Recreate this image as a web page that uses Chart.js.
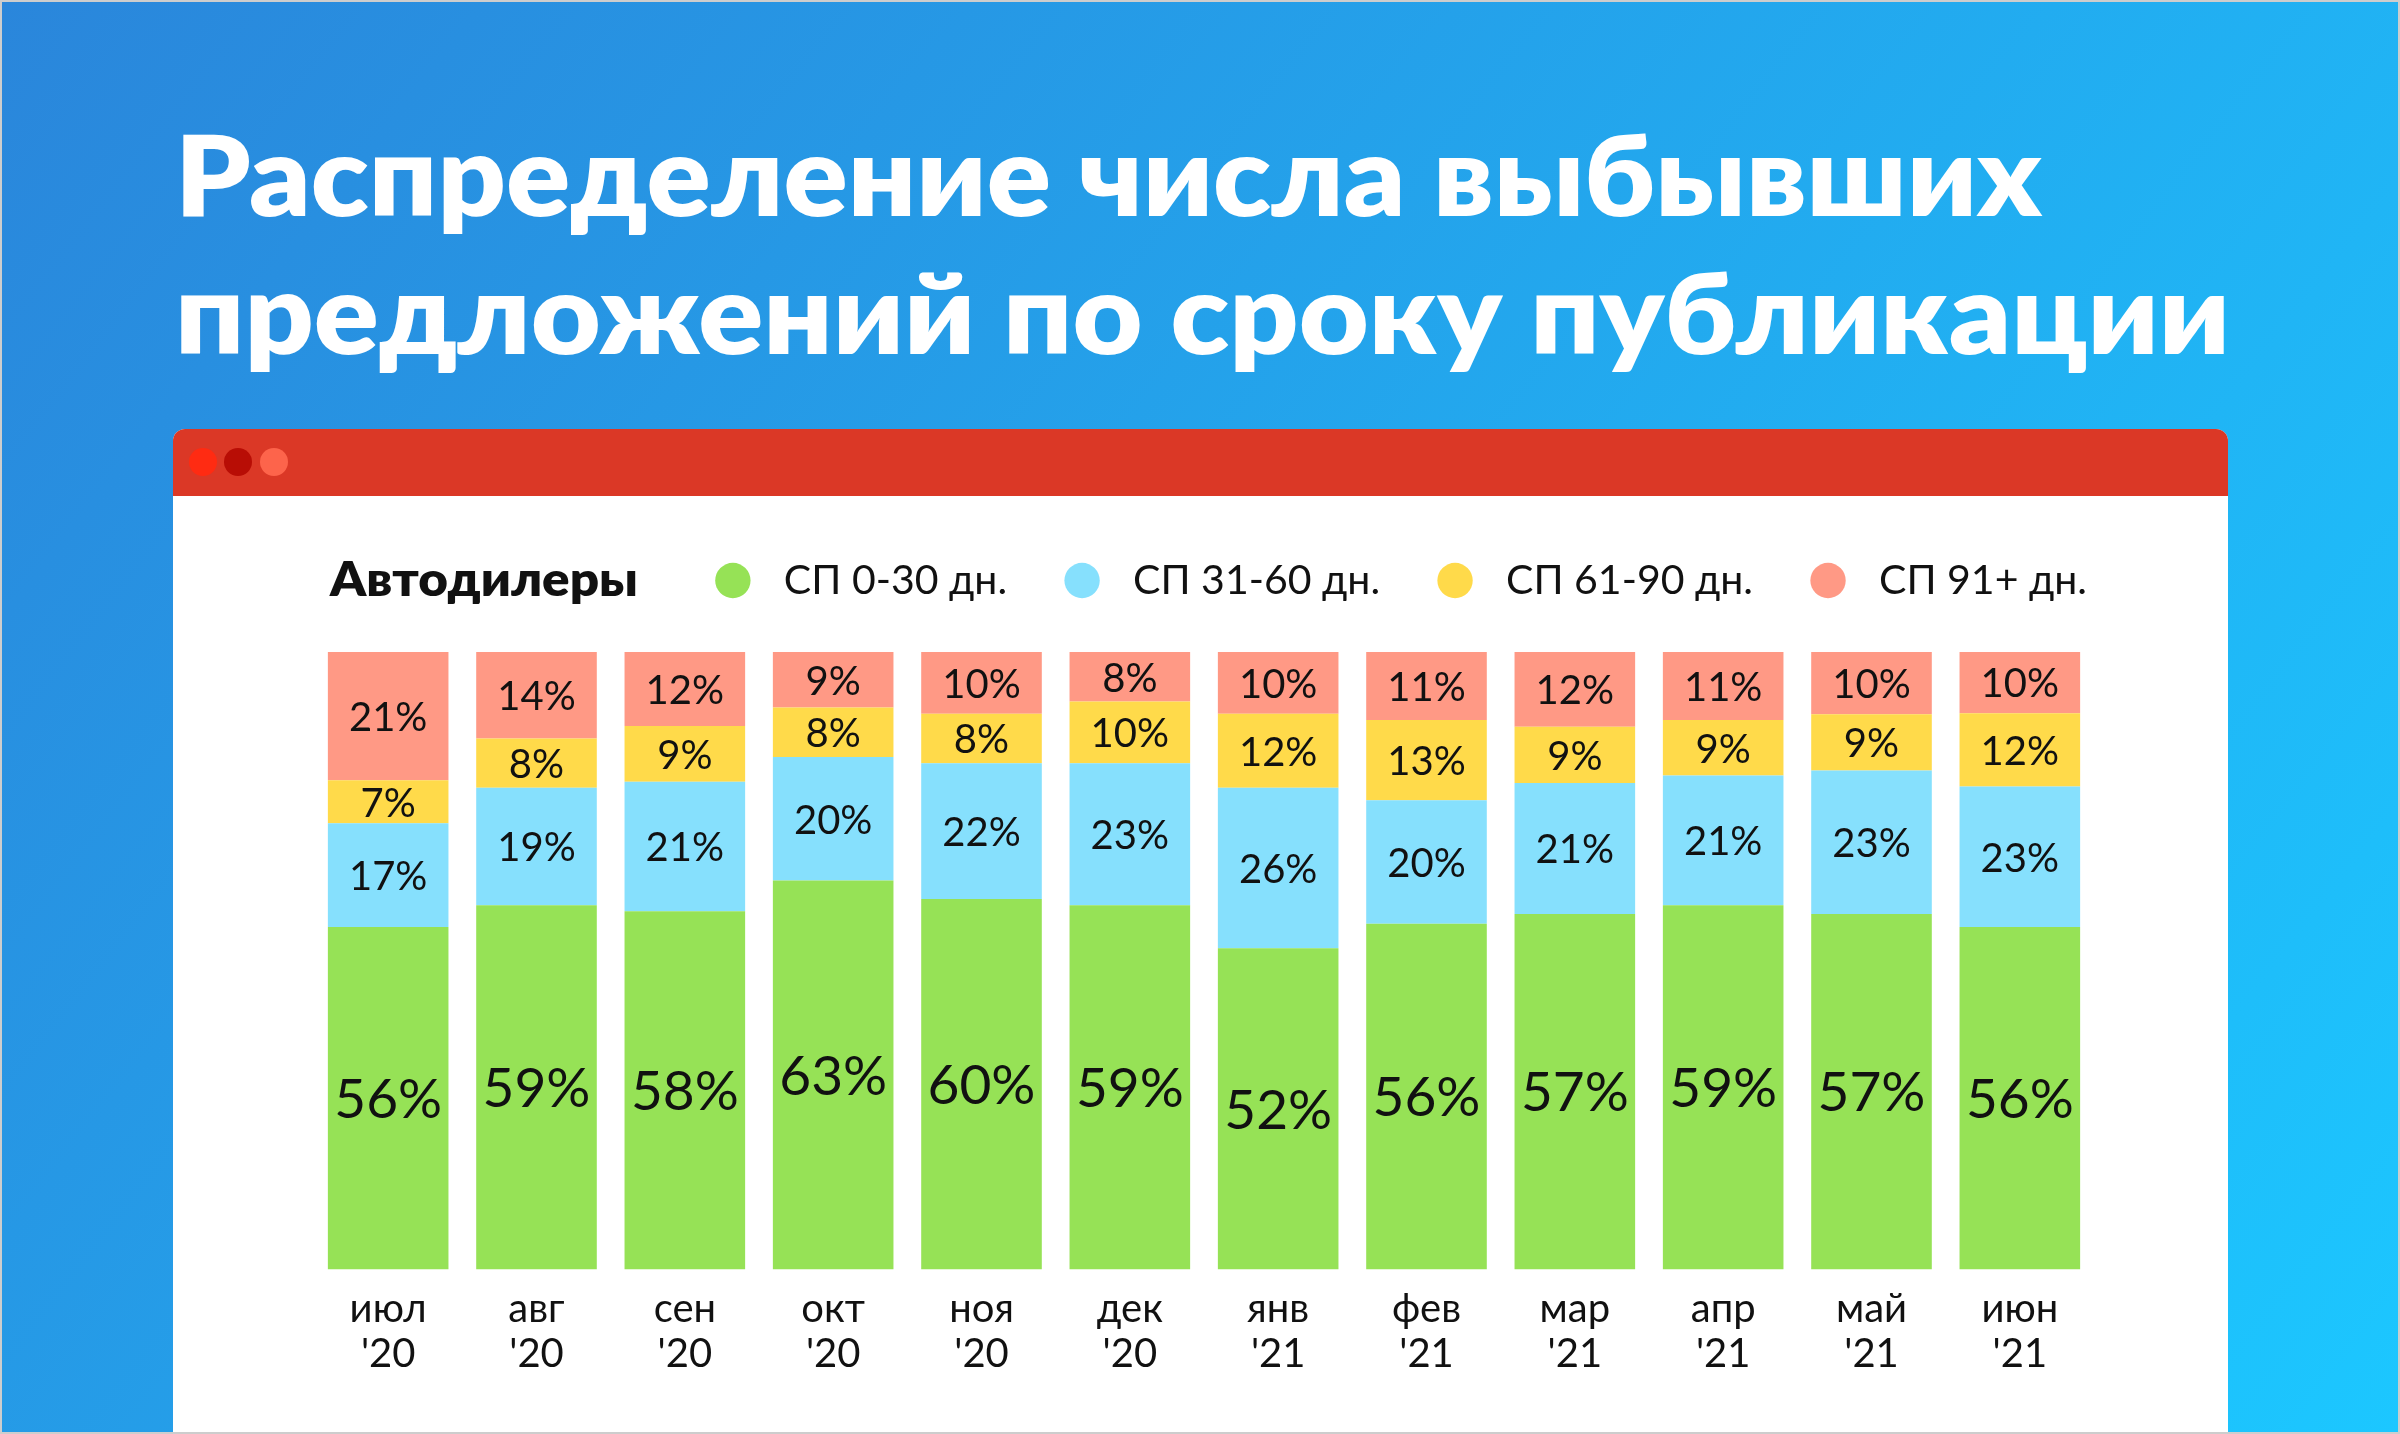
<!DOCTYPE html>
<html lang="ru">
<head>
<meta charset="utf-8">
<title>Распределение числа выбывших предложений по сроку публикации</title>
<script src="https://cdn.jsdelivr.net/npm/chart.js@4.4.1/dist/chart.umd.min.js"></script>
<style>
  html, body { margin: 0; padding: 0; }
  body {
    width: 2400px; height: 1434px; overflow: hidden; position: relative;
    box-sizing: border-box; border: 2px solid #cdcdcd;
    background: linear-gradient(128deg, #2a86db 0%, #1cc7ff 100%);
    font-family: Lato, 'Open Sans', sans-serif;
  }
  .window {
    position: absolute; left: 171px; top: 427px; width: 2055px; height: 1010px;
    background: #fff; border-radius: 12px 12px 0 0; overflow: hidden;
  }
  .window .bar { height: 67px; background: #db3826; position: relative; }
  .window .dot { position: absolute; top: 19px; width: 28px; height: 28px; border-radius: 50%; }
  svg.text { position: absolute; left: 0; top: 0; }
  canvas { position: absolute; left: 0; top: 0; }
</style>
</head>
<body>
<div class="window">
  <div class="bar">
    <div class="dot" style="left:16px;background:#ff2b12"></div>
    <div class="dot" style="left:51px;background:#b80d05"></div>
    <div class="dot" style="left:87px;background:#fd644b"></div>
  </div>
</div>
<svg class="text" width="2400" height="1434">
  <g fill="#ffffff" font-family="Lato, 'Open Sans', sans-serif" font-weight="800" font-size="112">
    <text x="173" y="214" textLength="1867" lengthAdjust="spacingAndGlyphs">Распределение числа выбывших</text>
    <text x="173" y="352" textLength="2055" lengthAdjust="spacingAndGlyphs">предложений по сроку публикации</text>
  </g>
  <text x="328" y="594" fill="#111" font-family="Lato, 'Open Sans', sans-serif" font-weight="800" font-size="47"
        textLength="308" lengthAdjust="spacingAndGlyphs">Автодилеры</text>
</svg>
<canvas id="chart" width="2398" height="1430"></canvas>
<script>
// months on the x axis, two lines each
const MONTHS = ['июл', 'авг', 'сен', 'окт', 'ноя', 'дек', 'янв', 'фев', 'мар', 'апр', 'май', 'июн'];
const YEARS = ["'20", "'20", "'20", "'20", "'20", "'20", "'21", "'21", "'21", "'21", "'21", "'21"];

// shares of withdrawn listings by listing age, % (as printed on the bars)
const SP_0_30 = [56, 59, 58, 63, 60, 59, 52, 56, 57, 59, 57, 56];
const SP_31_60 = [17, 19, 21, 20, 22, 23, 26, 20, 21, 21, 23, 23];
const SP_61_90 = [7, 8, 9, 8, 8, 10, 12, 13, 9, 9, 9, 12];
const SP_91 = [21, 14, 12, 9, 10, 8, 10, 11, 12, 11, 10, 10];

const SERIES_LABELS = ['СП 0-30 дн.', 'СП 31-60 дн.', 'СП 61-90 дн.', 'СП 91+ дн.'];
const SERIES_COLORS = ['#96e256', '#86e0fd', '#ffda4a', '#ff9985'];

const FONT = "Lato, 'Open Sans', sans-serif";
const TEXT_COLOR = '#111111';

const rawSeries = [SP_0_30, SP_31_60, SP_61_90, SP_91];
// printed percentages are rounded, so each bar is scaled to fill 100%
const totals = MONTHS.map((m, i) => rawSeries.reduce((s, arr) => s + arr[i], 0));

/**
 * Draws the printed percentage in the middle of every segment
 */
const segmentLabels = {
    id: 'segmentLabels',
    afterDatasetsDraw(chart) {
        const ctx = chart.ctx;
        ctx.save();
        ctx.textAlign = 'center';
        ctx.textBaseline = 'middle';
        ctx.fillStyle = TEXT_COLOR;
        chart.data.datasets.forEach((ds, di) => {
            const meta = chart.getDatasetMeta(di);
            ctx.font = (di === 0 ? '55px ' : '40px ') + FONT;
            meta.data.forEach((bar, i) => {
                const y = (bar.y + bar.base) / 2 + 2;
                ctx.fillText(ds.raw[i] + '%', bar.x, y);
            });
        });
        ctx.restore();
    }
};

/**
 * Adds a gap under the legend and lines its last item up with the last bar
 */
const legendTweak = {
    id: 'legendTweak',
    beforeInit(chart) {
        const legend = chart.legend;
        const fit = legend.fit;
        legend.fit = function() {
            fit.call(this);
            this.height += 41;
        };
    },
    afterLayout(chart) {
        chart.legend.left += 48;
        chart.legend.right += 48;
    }
};

const ctx = document.getElementById('chart').getContext('2d');
new Chart(ctx, {
    type: 'bar',
    data: {
        labels: MONTHS.map((m, i) => [m, YEARS[i]]),
        datasets: rawSeries.map((arr, si) => ({
            label: SERIES_LABELS[si],
            raw: arr,
            data: arr.map((v, i) => v / totals[i] * 100),
            backgroundColor: SERIES_COLORS[si],
            borderWidth: 0,
            barPercentage: 0.813,
            categoryPercentage: 1
        }))
    },
    options: {
        responsive: false,
        devicePixelRatio: 1,
        animation: false,
        layout: {
            padding: { top: 503, left: 312, right: 306, bottom: 39 }
        },
        plugins: {
            legend: {
                display: true,
                position: 'top',
                align: 'end',
                labels: {
                    usePointStyle: true,
                    pointStyle: 'circle',
                    boxWidth: 40,
                    boxHeight: 25,
                    padding: 55,
                    color: TEXT_COLOR,
                    font: { family: FONT, size: 41 },
                    generateLabels(chart) {
                        return Chart.defaults.plugins.legend.labels.generateLabels(chart)
                            .map(item => ({ ...item, text: ' ' + item.text }));
                    }
                }
            },
            tooltip: { enabled: false }
        },
        scales: {
            x: {
                stacked: true,
                offset: true,
                border: { display: false },
                grid: { display: false, drawTicks: false },
                ticks: {
                    color: TEXT_COLOR,
                    padding: 17,
                    font: { family: FONT, size: 40, lineHeight: 1.12 },
                    maxRotation: 0,
                    autoSkip: false
                }
            },
            y: {
                stacked: true,
                display: false,
                min: 0,
                max: 100
            }
        }
    },
    plugins: [segmentLabels, legendTweak]
});
</script>
</body>
</html>
